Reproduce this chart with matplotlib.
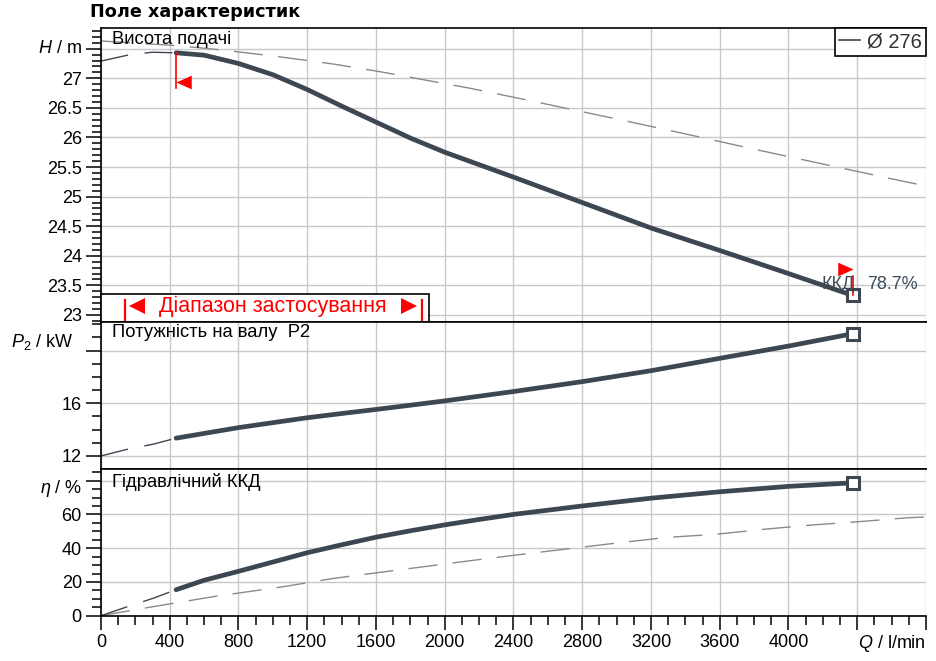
import matplotlib
matplotlib.use('Agg')
import matplotlib.pyplot as plt
from matplotlib.lines import Line2D
from matplotlib.patches import Rectangle
from matplotlib.ticker import MultipleLocator, FixedLocator, FixedFormatter

plt.rcParams['font.family'] = ['Liberation Sans', 'DejaVu Sans']
plt.rcParams['mathtext.fontset'] = 'custom'
plt.rcParams['mathtext.it'] = 'Liberation Sans:italic'
plt.rcParams['mathtext.rm'] = 'Liberation Sans'

# --- дані ---
q_main = [437, 600, 800, 1000, 1200, 1400, 1600, 1800, 2000, 2200, 2400, 2800, 3200, 3600, 4000, 4374]
h_main = [27.43, 27.39, 27.25, 27.06, 26.81, 26.53, 26.26, 25.99, 25.75, 25.54, 25.33,
          24.90, 24.47, 24.09, 23.70, 23.33]

q_p2 = [437, 800, 1200, 1400, 1600, 1800, 2000, 2400, 2800, 3200, 3600, 4000, 4374]
p2_main = [13.35, 14.15, 14.90, 15.22, 15.53, 15.85, 16.18, 16.89, 17.64, 18.47, 19.41, 20.34, 21.28]

q_eta = [437, 600, 800, 1000, 1200, 1400, 1600, 1800, 2000, 2200, 2400, 2800, 3200, 3600, 4000, 4374]
eta_main = [15.4, 21.0, 26.3, 31.8, 37.3, 42.0, 46.5, 50.3, 53.8, 57.0, 60.0, 65.0, 69.6, 73.4, 76.6, 78.7]

# продовження кривих до нуля (тонкий пунктир)
q_ext = [0, 170, 300, 437]
h_ext = [27.29, 27.40, 27.44, 27.43]
p2_ext = [12.0, 12.56, 12.88, 13.35]
eta_ext = [0.0, 5.9, 10.2, 15.4]

# сірі пунктирні криві
q_hg = [0, 448, 731, 1072, 1353, 1625, 2149, 2450, 3003, 3275, 3819, 4090, 4634, 4800]
h_hg = [27.63, 27.55, 27.47, 27.35, 27.24, 27.11, 26.83, 26.65, 26.31, 26.14, 25.79, 25.62, 25.28, 25.18]

q_eg = [0, 276, 654, 1062, 1353, 1625, 1906, 2149, 2460, 2741, 3013, 3295, 3576, 3858, 4132, 4411, 4692, 4828]
eta_eg = [0.0, 4.9, 11.3, 17.2, 22.1, 25.7, 29.4, 32.6, 36.5, 39.9, 43.2, 46.4, 48.2, 51.2, 53.7, 55.7, 58.0, 58.6]

x_ticks = [0, 400, 800, 1200, 1600, 2000, 2400, 2800, 3200, 3600, 4000, 4400, 4800]
x_labels = ['0', '400', '800', '1200', '1600', '2000', '2400', '2800', '3200', '3600', '4000', '', '']

h_ticks = [23, 23.5, 24, 24.5, 25, 25.5, 26, 26.5, 27, 27.5]
h_labels = ['23', '23.5', '24', '24.5', '25', '25.5', '26', '26.5', '27', '']
p2_ticks = [12, 16, 20]
p2_labels = ['12', '16', '']
eta_ticks = [0, 20, 40, 60, 80]
eta_labels = ['0', '20', '40', '60', '']

eff_label = 'ККД'
eff_value = '78.7%'
impeller = 'Ø 276'

# --- стилі ---
c_curve = '#3d4752'
c_grid = '#c8c8c8'
c_gray = '#8a8a8a'
dash_dark = (20, 12)
dash_gray = (21, 11)

fig = plt.figure(figsize=(9.36, 6.61), dpi=100)
L, W = 0.1079, 0.8814
ax_h = fig.add_axes([L, 0.5129, W, 0.4440])
ax_p = fig.add_axes([L, 0.2905, W, 0.2224], sharex=ax_h)
ax_e = fig.add_axes([L, 0.0685, W, 0.2220], sharex=ax_h)

for ax in (ax_h, ax_p, ax_e):
    ax.set_xlim(0, 4800)
    ax.xaxis.set_major_locator(FixedLocator(x_ticks))
    ax.xaxis.set_minor_locator(MultipleLocator(100))
    ax.grid(True, which='major', color=c_grid, lw=1.0, zorder=0)
    ax.set_axisbelow(True)
    for s in ('top', 'bottom', 'left'):
        ax.spines[s].set_color('black')
        ax.spines[s].set_linewidth(1.2)
    ax.spines['right'].set_visible(False)
    ax.tick_params(axis='y', which='major', direction='out', length=10.8, width=1.1,
                   labelsize=13, pad=3, colors='black')
    ax.tick_params(axis='y', which='minor', direction='out', length=6.5, width=1.1)

for ax in (ax_h, ax_p):
    ax.tick_params(axis='x', which='both', length=0, labelbottom=False)

ax_e.xaxis.set_major_formatter(FixedFormatter(x_labels))
ax_e.tick_params(axis='x', which='major', direction='out', length=10, width=1.1,
                 labelsize=13, pad=3.5)
ax_e.tick_params(axis='x', which='minor', direction='out', length=6.3, width=1.1)

# --- Висота подачі ---
ax_h.set_ylim(22.882, 27.841)
ax_h.yaxis.set_major_locator(FixedLocator(h_ticks))
ax_h.yaxis.set_major_formatter(FixedFormatter(h_labels))
ax_h.yaxis.set_minor_locator(MultipleLocator(0.1))
ax_h.plot(q_hg, h_hg, color=c_gray, lw=1.0, dashes=dash_gray, zorder=2)
ax_h.plot(q_ext, h_ext, color=c_curve, lw=1.0, dashes=dash_dark, zorder=2)
ax_h.plot(q_main, h_main, color=c_curve, lw=3.4, solid_capstyle='round',
          solid_joinstyle='round', zorder=3)
ax_h.plot(q_main[-1], h_main[-1], marker='s', ms=8, mfc='white', mec=c_curve, mew=2.2, zorder=4)

# червоні позначки робочого діапазону
tri_right = [(0, 0), (1, 0.45), (1, -0.45), (0, 0)]
tri_left = [(0, 0), (-1, 0.45), (-1, -0.45), (0, 0)]
ax_h.plot([q_main[0], q_main[0]], [26.83, h_main[0]], color='red', lw=1.2, zorder=5)
ax_h.plot(q_main[0], 26.94, marker=tri_right, ms=22, color='red', mew=0, zorder=5)
ax_h.plot([q_main[-1], q_main[-1]], [h_main[-1], 23.66], color='red', lw=1.2, zorder=5)
ax_h.plot(q_main[-1], 23.77, marker=tri_left, ms=22, color='red', mew=0, zorder=5)
ax_h.text(4385, 23.51, eff_label, ha='right', va='center', fontsize=13, color='#3d4a58', zorder=6)
ax_h.text(4460, 23.51, eff_value, ha='left', va='center', fontsize=13, color='#3d4a58', zorder=6)

ax_h.text(0.0133, 0.961, 'Висота подачі', transform=ax_h.transAxes, ha='left', va='center',
          fontsize=13.2, color='black')
ax_h.text(-0.023, 0.932, '$H$ / m', transform=ax_h.transAxes, ha='right', va='center', fontsize=13)

leg = ax_h.legend(handles=[Line2D([], [], color=c_curve, lw=1.2)], labels=[impeller],
                  loc='upper right', fancybox=False, edgecolor='black', framealpha=1,
                  borderaxespad=0, fontsize=14.5, handlelength=1.05, handletextpad=0.35,
                  borderpad=0.2)
leg.get_frame().set_linewidth(1.2)
for t in leg.get_texts():
    t.set_color('#333333')
leg.set_zorder(7)

# блок "Діапазон застосування"
ax_h.add_patch(Rectangle((0, 0), 0.3976, 0.0954, transform=ax_h.transAxes, fc='white',
                         ec='black', lw=1.2, zorder=6, clip_on=False))
for xb in (0.029, 0.389):
    ax_h.plot([xb, xb], [0, 0.075], transform=ax_h.transAxes, color='red', lw=1.6,
              zorder=7, clip_on=False)
ax_h.plot(0.0442, 0.0555, marker='<', ms=11, color='red', mew=0, transform=ax_h.transAxes, zorder=7)
ax_h.plot(0.373, 0.0555, marker='>', ms=11, color='red', mew=0, transform=ax_h.transAxes, zorder=7)
ax_h.text(0.2079, 0.0545, 'Діапазон застосування', transform=ax_h.transAxes, ha='center',
          va='center', fontsize=15.5, color='red', zorder=8)

# --- Потужність на валу ---
ax_p.set_ylim(11.01, 22.17)
ax_p.yaxis.set_major_locator(FixedLocator(p2_ticks))
ax_p.yaxis.set_major_formatter(FixedFormatter(p2_labels))
ax_p.yaxis.set_minor_locator(MultipleLocator(1))
ax_p.plot(q_ext, p2_ext, color=c_curve, lw=1.0, dashes=dash_dark, zorder=2)
ax_p.plot(q_p2, p2_main, color=c_curve, lw=3.4, solid_capstyle='round',
          solid_joinstyle='round', zorder=3)
ax_p.plot(q_p2[-1], p2_main[-1], marker='s', ms=8, mfc='white', mec=c_curve, mew=2.2, zorder=4)
ax_p.text(0.0133, 0.925, 'Потужність на валу  P2', transform=ax_p.transAxes, ha='left',
          va='center', fontsize=13.2)
ax_p.text(-0.034, 0.867, '$P_2$ / kW', transform=ax_p.transAxes, ha='right', va='center', fontsize=13)

# --- Гідравлічний ККД ---
ax_e.set_ylim(0, 86.9)
ax_e.yaxis.set_major_locator(FixedLocator(eta_ticks))
ax_e.yaxis.set_major_formatter(FixedFormatter(eta_labels))
ax_e.yaxis.set_minor_locator(MultipleLocator(5))
ax_e.plot(q_eg, eta_eg, color=c_gray, lw=1.0, dashes=dash_gray, zorder=2)
ax_e.plot(q_ext, eta_ext, color=c_curve, lw=1.0, dashes=dash_dark, zorder=2)
ax_e.plot(q_eta, eta_main, color=c_curve, lw=3.4, solid_capstyle='round',
          solid_joinstyle='round', zorder=3)
ax_e.plot(q_eta[-1], eta_main[-1], marker='s', ms=8, mfc='white', mec=c_curve, mew=2.2, zorder=4)
ax_e.text(0.0133, 0.913, 'Гідравлічний ККД', transform=ax_e.transAxes, ha='left',
          va='center', fontsize=13.2)
ax_e.text(-0.023, 0.870, '$\\eta$ / %', transform=ax_e.transAxes, ha='right', va='center', fontsize=13)
ax_e.text(1.0, -0.186, '$Q$ / l/min', transform=ax_e.transAxes, ha='right', va='center', fontsize=13)

fig.text(90 / 936, 1 - 12 / 661, 'Поле характеристик', family='DejaVu Sans', fontweight='bold',
         fontsize=12.7, ha='left', va='center')

fig.savefig('out.png', dpi=100)
